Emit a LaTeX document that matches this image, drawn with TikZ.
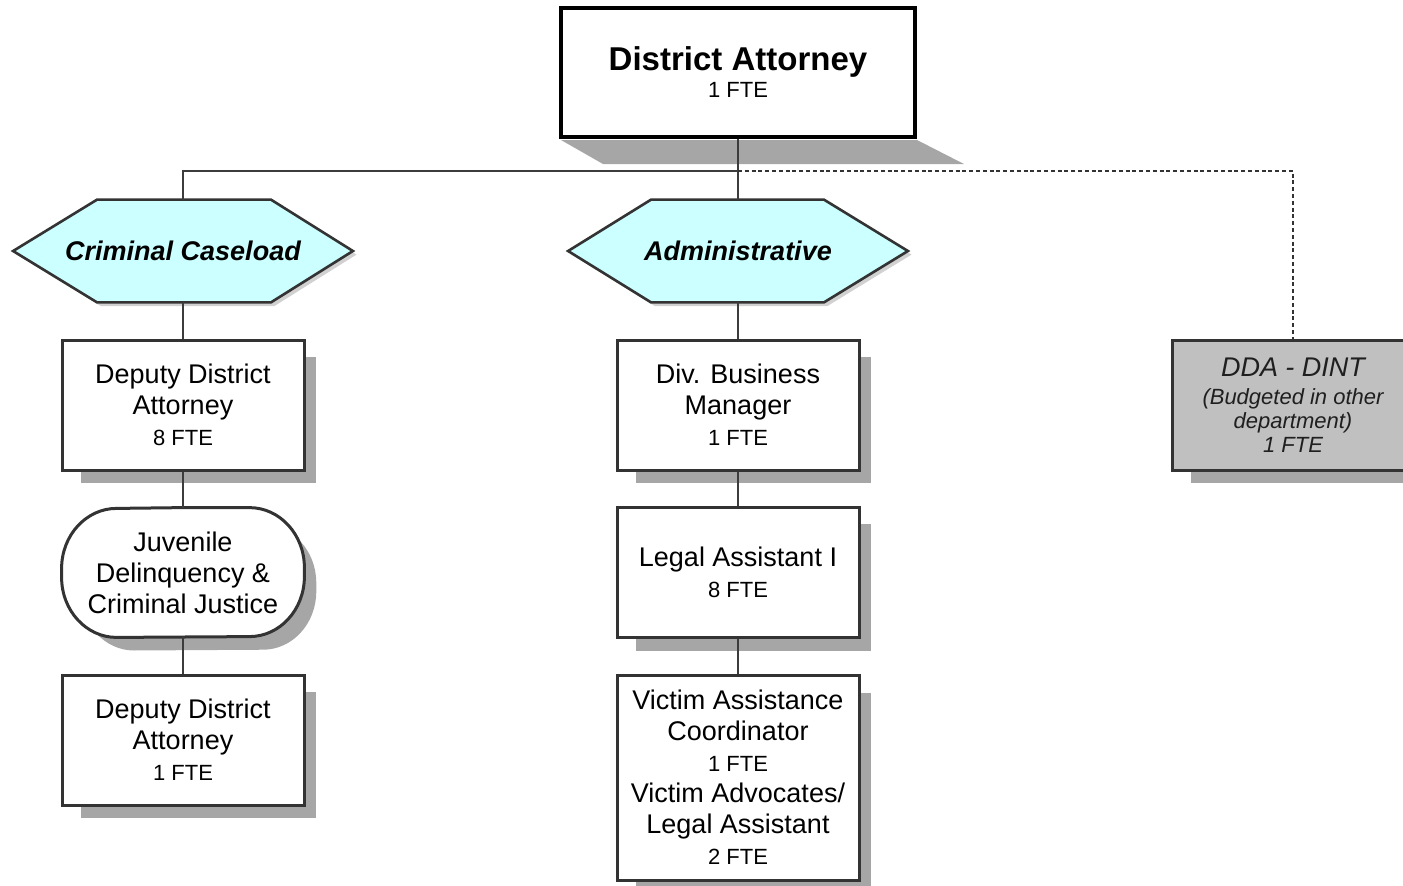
\documentclass[tikz,border=0pt]{standalone}
\usepackage{fontspec}
\setmainfont{Liberation Sans}
\usetikzlibrary{calc,shadows,backgrounds}

\definecolor{edgeclr}{HTML}{333333}
\definecolor{linkclr}{HTML}{3C3C3C}
\definecolor{hexclr}{HTML}{CCFFFF}
\definecolor{shadeclr}{HTML}{A6A6A6}
\definecolor{otherclr}{HTML}{C0C0C0}

\newcommand\mainsize{\fontsize{13.5}{15.5}\selectfont}
\newcommand\ftesize{\fontsize{11}{15.5}\selectfont}

\tikzset{
  boxshade/.style={drop shadow={shadow xshift=8pt,shadow yshift=-7.75pt,
      shadow scale=0.97,fill=shadeclr,opacity=1}},
  unitbox/.style={draw=edgeclr,line width=1.5pt,fill=white,minimum width=121pt,
      minimum height=65pt,inner sep=0pt,align=center,font=\mainsize,boxshade},
  unittext/.style={minimum width=121pt,minimum height=64.5pt,inner sep=0pt,
      align=center,font=\mainsize},
  ovalline/.style={draw=edgeclr,line width=1.5pt,line join=round,fill=white,boxshade},
  topbox/.style={draw=black,line width=2pt,fill=white,minimum width=177pt,
      minimum height=64.5pt,inner sep=0pt,align=center},
  hexlabel/.style={minimum width=169.5pt,minimum height=51pt,inner sep=0pt,
      font=\fontsize{13.5}{15.5}\selectfont\bfseries\itshape},
  hexline/.style={draw=edgeclr,line width=1.3pt,fill=hexclr,
      drop shadow={shadow xshift=1.8pt,shadow yshift=-1.8pt,fill=black!18,opacity=1}},
  link/.style={draw=linkclr,line width=1.1pt},
  dashlink/.style={draw=edgeclr,line width=1.4pt,dash pattern=on 2pt off 1.4pt},
}

\begin{document}
\begin{tikzpicture}[x=0.5pt,y=-0.5pt]
  \clip (0,0) rectangle (1403,885);

  % head of the office
  \node[topbox] (da) at (738,72.5)
    {{\fontsize{16.5}{15.5}\selectfont\bfseries District Attorney}\\[1.5pt]{\ftesize 1 FTE}};
  \fill[shadeclr] ($(da.south west)+(2,1)$) -- ($(da.south east)+(0,1)$)
    -- ($(da.south east)+(47,25)$) -- ($(da.south west)+(44,25)$) -- cycle;

  % division headings
  \node[hexlabel] (crim) at (183,251) {Criminal Caseload};
  \node[hexlabel] (adm)  at (738,251) {Administrative};
  \begin{scope}[on background layer]
    \path[hexline] (crim.west) -- ($(crim.north west)+(84,0)$) -- ($(crim.north east)+(-82,0)$)
      -- (crim.east) -- ($(crim.south east)+(-82,0)$) -- ($(crim.south west)+(84,0)$) -- cycle;
    \path[hexline] (adm.west) -- ($(adm.north west)+(83,0)$) -- ($(adm.north east)+(-84,0)$)
      -- (adm.east) -- ($(adm.south east)+(-84,0)$) -- ($(adm.south west)+(83,0)$) -- cycle;
  \end{scope}

  % criminal caseload column
  \node[unitbox] (dda1) at (183,405) {Deputy District\\Attorney\\{\ftesize 8 FTE}};
  \node[unittext] (juv) at (183,572.5) {Juvenile\\Delinquency \&\\Criminal Justice};
  \begin{scope}[on background layer]
    \path[ovalline] ($(juv.north)$) -- ($(juv.north east)+(-55,0)$)
      arc[start angle=90,end angle=0,x radius=27.5pt,y radius=30pt] -- ++(0,9)
      arc[start angle=0,end angle=-90,x radius=27.5pt,y radius=30pt]
      -- ($(juv.south west)+(55,0)$)
      arc[start angle=270,end angle=180,x radius=27.5pt,y radius=30pt] -- ++(0,-9)
      arc[start angle=180,end angle=90,x radius=27.5pt,y radius=30pt] -- cycle;
  \end{scope}
  \node[unitbox] (dda2) at (183,740) {Deputy District\\Attorney\\{\ftesize 1 FTE}};

  % administrative column
  \node[unitbox] (dbm) at (738,405) {Div. Business\\Manager\\{\ftesize 1 FTE}};
  \node[unitbox] (la) at (738,572.5) {Legal Assistant I\\{\ftesize 8 FTE}};
  \node[unitbox,minimum height=102.5pt] (vac) at (738,777.5)
    {Victim Assistance\\Coordinator\\{\ftesize 1 FTE}\\Victim Advocates/\\Legal Assistant\\{\ftesize 2 FTE}};

  % position funded elsewhere
  \node[unitbox,fill=otherclr,text=black!88,font=\fontsize{11}{12}\selectfont\itshape] (dint) at (1293,405)
    {{\fontsize{13.5}{12}\selectfont DDA - DINT}\\[2pt](Budgeted in other\\department)\\1 FTE};

  % reporting lines
  \coordinate (bus) at (738,171);
  \draw[link] (da.south) -- (adm.north);
  \draw[link] (crim.north) -- (crim.north |- bus) -- (bus);
  \draw[dashlink] (bus) -| (dint.north);
  \draw[link] (crim.south) -- (dda1.north);
  \draw[link] (dda1.south) -- (juv.north);
  \draw[link] (juv.south) -- (dda2.north);
  \draw[link] (adm.south) -- (dbm.north);
  \draw[link] (dbm.south) -- (la.north);
  \draw[link] (la.south) -- (vac.north);
\end{tikzpicture}
\end{document}
